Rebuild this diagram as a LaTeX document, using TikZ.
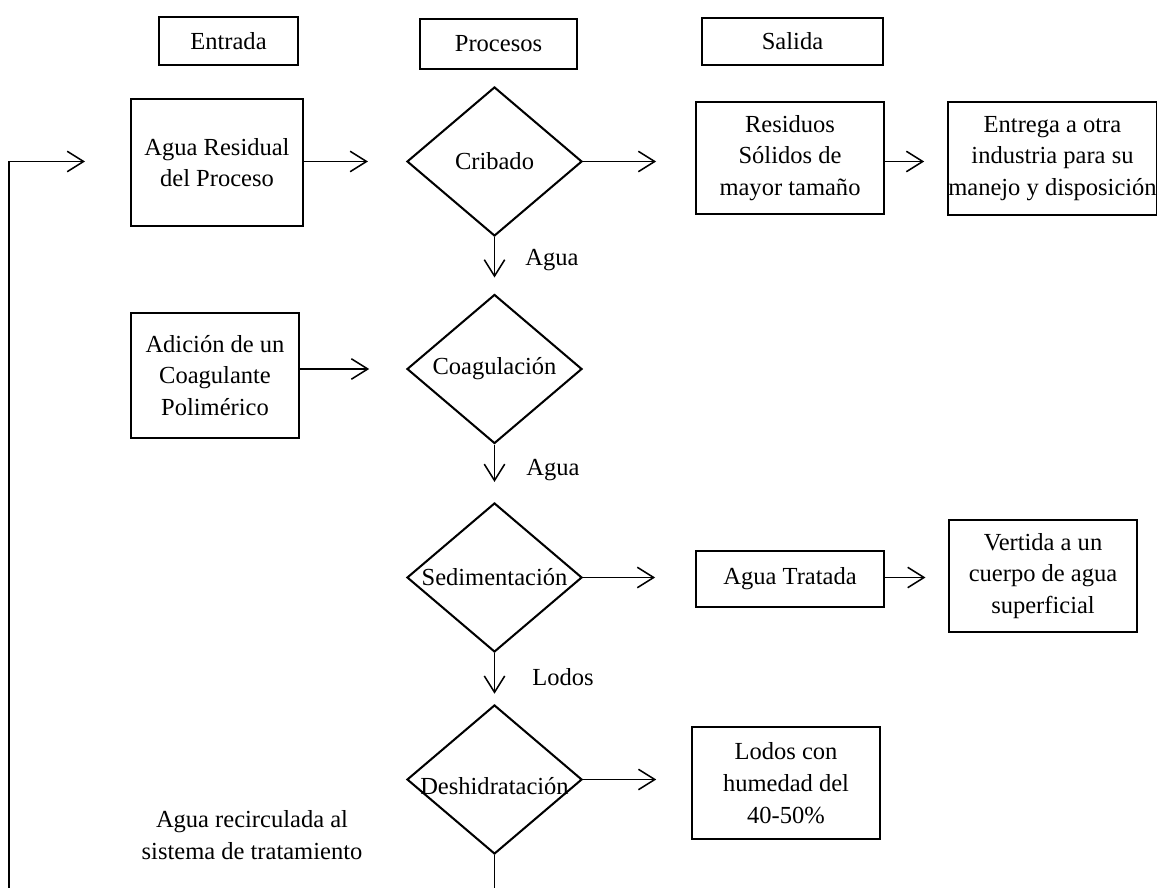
\documentclass[tikz,border=0pt]{standalone}
\usepackage{fontspec}
\setmainfont{Liberation Serif}
\usetikzlibrary{shapes.geometric,arrows.meta}

\begin{document}
\begin{tikzpicture}[x=0.0172cm,y=-0.0172cm,
  caja/.style={draw, line width=1pt, align=center, inner sep=0pt, font=\fontsize{12}{15.5}\selectfont},
  rombo/.style={diamond, draw, line width=1pt, inner sep=0pt, minimum width=3.01cm, minimum height=2.563cm},
  texto/.style={align=center, font=\fontsize{12}{15.5}\selectfont},
  flecha/.style={-{Straight Barb[length=8pt,width=10pt]}, line width=0.75pt}]
\clip (0,0) rectangle (1157,888);
% encabezados
\node[caja, minimum width=2.391cm, minimum height=0.826cm] (entrada) at (228.5,41) {Entrada};
\node[caja, minimum width=2.700cm, minimum height=0.860cm] (procesos) at (498.5,44) {Procesos};
\node[caja, minimum width=3.113cm, minimum height=0.808cm] (salida) at (792.5,41.5) {Salida};
% entradas
\node[caja, minimum width=2.958cm, minimum height=2.184cm] (residual) at (217,162.5) {Agua Residual\\del Proceso};
\node[caja, minimum width=2.890cm, minimum height=2.150cm] (adicion) at (215,375.5) {Adición de un\\Coagulante\\Polimérico};
% procesos
\node[rombo, label={[texto]center:Cribado}] (cribado) at (494.5,161.5) {};
\node[rombo, label={[texto]center:Coagulación}] (coag) at (494.5,369) {};
\node[rombo, label={[texto]center:Sedimentación}] (sedim) at (494.5,577.5) {};
\node[rombo, label={[texto,yshift=-3pt]center:Deshidratación}] (deshid) at (494.5,779.5) {};
% salidas
\node[caja, minimum width=3.234cm, minimum height=1.926cm] (residuos) at (790,158) {Residuos\\Sólidos de\\mayor tamaño};
\node[caja, minimum width=3.560cm, minimum height=1.944cm] (entrega) at (1052.5,158.5) {Entrega a otra\\industria para su\\manejo y disposición};
\node[caja, minimum width=3.234cm, minimum height=0.963cm] (tratada) at (790,579) {Agua Tratada};
\node[caja, minimum width=3.234cm, minimum height=1.926cm] (vertida) at (1043,576) {Vertida a un\\cuerpo de agua\\superficial};
\node[caja, minimum width=3.234cm, minimum height=1.926cm] (lodos) at (786,783) {Lodos con\\humedad del\\40-50\%};
% etiquetas
\node[texto] (agua1) at (552,260) {Agua};
\node[texto] (agua2) at (553,470) {Agua};
\node[texto] (lodos1) at (563,677) {Lodos};
\node[texto] (recirc) at (252,835) {Agua recirculada al\\sistema de tratamiento};
% flechas
\draw[flecha, shorten >=18.6pt] (residual.east |- cribado.west) -- (cribado.west);
\draw[flecha, shorten >=18pt] (adicion.east |- coag.west) -- (coag.west);
\draw[flecha, shorten >=19pt] (cribado.east) -- (cribado.east -| residuos.west);
\draw[flecha, shorten >=11.3pt] (cribado.east -| residuos.east) -- (cribado.east -| entrega.west);
\draw[flecha, shorten >=19.5pt] (sedim.east) -- (sedim.east -| tratada.west);
\draw[flecha, shorten >=11pt] (sedim.east -| tratada.east) -- (sedim.east -| vertida.west);
\draw[flecha, shorten >=17pt] (deshid.east) -- (deshid.east -| lodos.west);
\draw[flecha, shorten >=7.8pt] (cribado.south) -- (coag.north);
\draw[flecha, shorten >=9.8pt] (coag.south) -- (sedim.north);
\draw[flecha, shorten >=5pt] (sedim.south) -- (deshid.north);
% retorno
\coordinate (retorno) at (85,161.5);
\draw[flecha] (deshid.south) -- ++(0,50) -| (9,161.5) -- (retorno);
\end{tikzpicture}
\end{document}
